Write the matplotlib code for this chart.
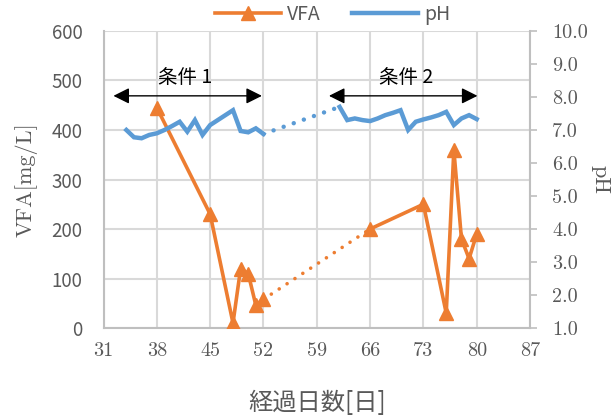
import matplotlib.pyplot as plt
from matplotlib.lines import Line2D

# VFA (mg/L) for the two operating conditions
vfa_days1 = [38, 45, 48, 49, 50, 51, 52]
vfa1 = [445, 230, 10, 120, 110, 46, 58]
vfa_days2 = [66, 73, 76, 77, 78, 79, 80]
vfa2 = [200, 250, 30, 360, 180, 140, 190]

# pH readings
ph_days1 = [34, 35, 36, 37, 38, 39, 40, 41, 42, 43, 44, 45, 46, 47, 48, 49, 50, 51, 52]
ph1 = [7.0, 6.78, 6.75, 6.85, 6.9, 7.0, 7.12, 7.25, 6.95, 7.3, 6.85, 7.15, 7.3, 7.45,
       7.6, 6.97, 6.93, 7.05, 6.88]
ph_days2 = [62, 63, 64, 65, 66, 67, 68, 69, 70, 71, 72, 73, 74, 75, 76, 77, 78, 79, 80]
ph2 = [7.7, 7.3, 7.35, 7.3, 7.27, 7.35, 7.45, 7.52, 7.6, 7.0, 7.25, 7.32, 7.38, 7.45,
       7.55, 7.15, 7.35, 7.45, 7.33]

x_ticks = [31, 38, 45, 52, 59, 66, 73, 80, 87]
vfa_ticks = [0, 100, 200, 300, 400, 500, 600]
ph_ticks = [1.0, 2.0, 3.0, 4.0, 5.0, 6.0, 7.0, 8.0, 9.0, 10.0]

orange = '#ED7D31'
blue = '#5B9BD5'
gray = '#595959'
grid_c = '#D9D9D9'
sans = ['Noto Sans CJK JP', 'DejaVu Sans']
serif = 'cmr10'

fig = plt.figure(figsize=(6.14, 4.16), dpi=100)
ax1 = fig.add_axes([0.1686, 0.2115, 0.6946, 0.714])
ax2 = ax1.twinx()

# VFA
ax1.plot(vfa_days1, vfa1, color=orange, lw=2.6, marker='^', ms=10, zorder=3)
ax1.plot(vfa_days2, vfa2, color=orange, lw=2.6, marker='^', ms=10, zorder=3)
ax1.plot([vfa_days1[-1], vfa_days2[0]], [vfa1[-1], vfa2[0]], color=orange, lw=2.6,
         ls=(0, (0.01, 2.6)), dash_capstyle='round', zorder=2)

# pH
ax2.plot(ph_days1, ph1, color=blue, lw=3.2, solid_joinstyle='miter')
ax2.plot(ph_days2, ph2, color=blue, lw=3.2, solid_joinstyle='miter')
ax2.plot([ph_days1[-1], ph_days2[0]], [ph1[-1], ph2[0]], color=blue, lw=3.2,
         ls=(0, (0.01, 2.4)), dash_capstyle='round')

ax1.set_xlim(31, 87)
ax1.set_ylim(0, 600)
ax2.set_ylim(1.0, 10.0)
ax1.set_xticks(x_ticks)
ax1.set_yticks(vfa_ticks)
ax2.set_yticks(ph_ticks)
ax1.set_xticklabels([str(v) for v in x_ticks], fontfamily=serif, fontsize=14.5, color=gray)
ax1.set_yticklabels([str(v) for v in vfa_ticks], fontfamily=sans, fontsize=13.5, color=gray)
ax2.set_yticklabels([f'{v:.1f}' for v in ph_ticks], fontfamily=serif, fontsize=14.5, color=gray)

ax1.grid(True, color=grid_c, lw=1.5)
ax1.set_axisbelow(True)
ax1.tick_params(axis='both', length=0)
ax1.tick_params(axis='x', pad=10)
ax1.tick_params(axis='y', pad=15)
ax2.tick_params(axis='y', length=5, width=1.2, color='#BFBFBF', direction='out', pad=11)

for sp in ['top', 'right']:
    ax1.spines[sp].set_visible(False)
for sp in ['left', 'bottom']:
    ax1.spines[sp].set_color('#BFBFBF')
    ax1.spines[sp].set_linewidth(1.5)
for sp in ['top', 'left', 'bottom']:
    ax2.spines[sp].set_visible(False)
ax2.spines['right'].set_color('#BFBFBF')
ax2.spines['right'].set_linewidth(1.5)

ax1.set_xlabel('経過日数[日]', fontfamily=sans, fontsize=17.5, color=gray, labelpad=22)
ax1.set_ylabel('VFA[mg/L]', fontfamily=serif, fontsize=16, color=gray, labelpad=10)
ax2.set_ylabel('pH', fontfamily=serif, fontsize=16, color=gray, rotation=270, labelpad=16)

# condition spans
arrow = dict(arrowstyle='<|-|>', color='black', lw=1.0, mutation_scale=24,
             shrinkA=0, shrinkB=0)
ax1.annotate('', xy=(51.8, 469), xytext=(32.3, 469), arrowprops=arrow, zorder=5)
ax1.annotate('', xy=(80.1, 469), xytext=(60.6, 469), arrowprops=arrow, zorder=5)
ax1.text(41.7, 507, '条件 1', fontfamily=sans, fontsize=14, ha='center', va='center')
ax1.text(70.7, 507, '条件 2', fontfamily=sans, fontsize=14, ha='center', va='center')

handles = [Line2D([], [], color=orange, lw=2.6, marker='^', ms=10),
           Line2D([], [], color=blue, lw=3.2)]
leg = fig.legend(handles, ['VFA', 'pH'], loc='center', bbox_to_anchor=(0.542, 0.966),
                 ncol=2, frameon=False, prop={'family': sans, 'size': 14},
                 handlelength=3.4, columnspacing=1.6, handletextpad=0.3)
for t in leg.get_texts():
    t.set_color(gray)

fig.savefig('out.png', dpi=100)
